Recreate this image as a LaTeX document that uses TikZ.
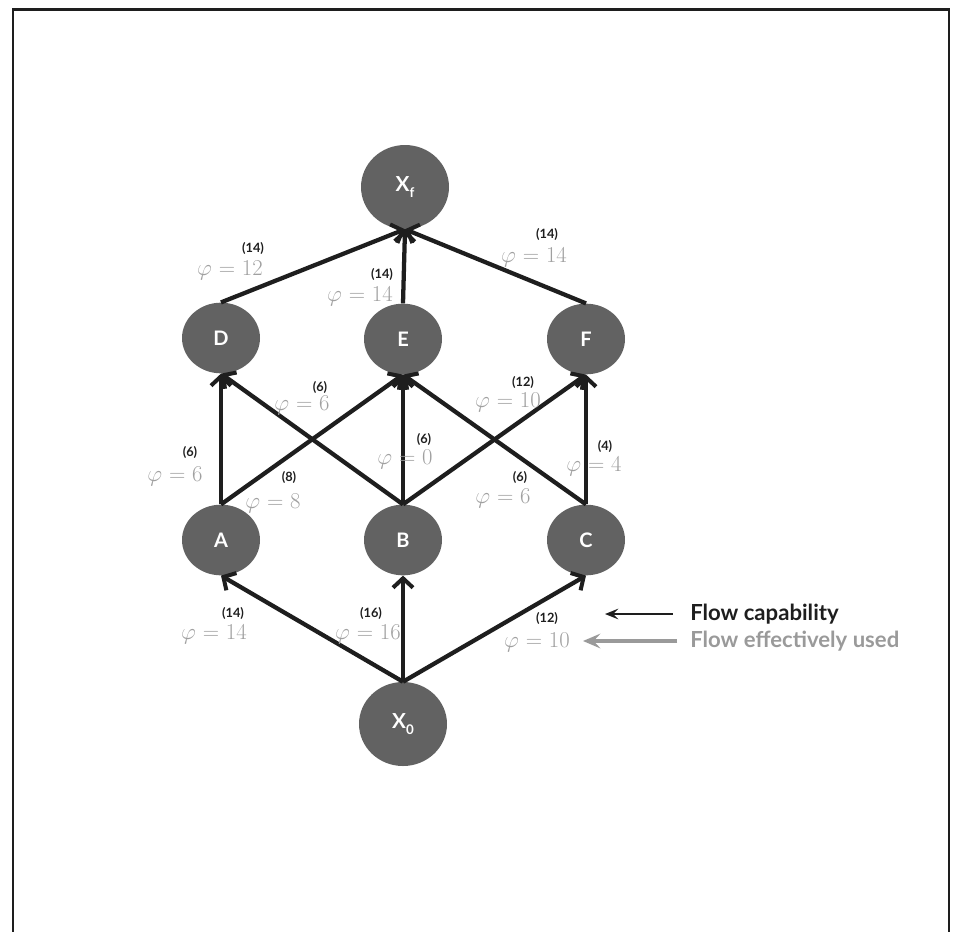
\documentclass[tikz,border=0pt]{standalone}
\usepackage{fontspec}
\setmainfont{Lato}
\usetikzlibrary{arrows.meta,shapes.geometric}
\definecolor{nodegray}{HTML}{626262}
\definecolor{phigray}{HTML}{A0A0A0}
\definecolor{leggray}{HTML}{9A9A9A}
\definecolor{ink}{HTML}{1E1E1E}
\tikzset{
  stnode/.style={ellipse, fill=nodegray, draw=none, minimum width=58.5pt, minimum height=53pt, inner sep=0pt,
    text=white, font=\fontsize{15}{17}\selectfont\bfseries},
  bignode/.style={stnode, minimum width=66pt, minimum height=63pt, font=\fontsize{15.5}{17}\selectfont\bfseries},
  edge/.style={draw=ink, line width=3.2pt, -{Straight Barb[length=7pt,width=15pt,line width=3pt]}},
  caplabel/.style={font=\fontsize{9.6}{11}\selectfont\bfseries, text=ink, inner sep=0pt},
  philabel/.style={font=\fontspec{Latin Modern Roman}\fontsize{17}{19}\selectfont, text=phigray, inner sep=0pt},
  legtext/.style={font=\fontsize{16.6}{19}\selectfont\bfseries, anchor=west, inner sep=0pt},
}
\newcommand{\phival}[1]{$\varphi$ = #1}
\begin{document}
\begin{tikzpicture}[x=0.75pt,y=-0.75pt]
\useasboundingbox (0,0) rectangle (955,931);
% frame
\draw[line width=2.2pt, draw=ink] (13,935) -- (13,9.5) -- (949,9.5) -- (949,935);
% nodes
\node[bignode] (Xf) at (405,187) {X\raisebox{-0.55ex}{\fontsize{10}{11}\selectfont f}};
\node[stnode] (D) at (221,338) {D};
\node[stnode] (E) at (403,339) {E};
\node[stnode] (F) at (586,339) {F};
\node[stnode] (A) at (221,540) {A};
\node[stnode] (B) at (403,540) {B};
\node[stnode] (C) at (586,540) {C};
\node[bignode] (X0) at (403,724) {X\raisebox{-0.55ex}{\fontsize{10}{11}\selectfont 0}};
% edges
\draw[edge] (D.north) -- (Xf.south);
\draw[edge] (E.north) -- (Xf.south);
\draw[edge] (F.north) -- (Xf.south);
\draw[edge] (A.north) -- (D.south);
\draw[edge] (A.north) -- (E.south);
\draw[edge] (B.north) -- (D.south);
\draw[edge] (B.north) -- (E.south);
\draw[edge] (B.north) -- (F.south);
\draw[edge] (C.north) -- (E.south);
\draw[edge] (C.north) -- (F.south);
\draw[edge] (X0.north) -- (A.south);
\draw[edge] (X0.north) -- (B.south);
\draw[edge] (X0.north) -- (C.south);
% labels
\node[caplabel] (c1) at (253,248) {(14)}; \node[philabel] (p1) at (230,270) {\phival{12}};
\node[caplabel] (c2) at (382,274) {(14)}; \node[philabel] (p2) at (360,296) {\phival{14}};
\node[caplabel] (c3) at (547,234) {(14)}; \node[philabel] (p3) at (534,257) {\phival{14}};
\node[caplabel] (c4) at (320,387) {(6)};  \node[philabel] (p4) at (302,405) {\phival{6}};
\node[caplabel] (c5) at (190,452) {(6)};  \node[philabel] (p5) at (175,476) {\phival{6}};
\node[caplabel] (c6) at (289,477) {(8)};  \node[philabel] (p6) at (273,503) {\phival{8}};
\node[caplabel] (c7) at (424,439) {(6)};  \node[philabel] (p7) at (405,459) {\phival{0}};
\node[caplabel] (c8) at (523,382) {(12)}; \node[philabel] (p8) at (508,402) {\phival{10}};
\node[caplabel] (c9) at (520,477) {(6)};  \node[philabel] (p9) at (503,498) {\phival{6}};
\node[caplabel] (c10) at (605,446) {(4)}; \node[philabel] (p10) at (594,466) {\phival{4}};
\node[caplabel] (c11) at (233,613) {(14)}; \node[philabel] (p11) at (214,634) {\phival{14}};
\node[caplabel] (c12) at (371,613) {(16)}; \node[philabel] (p12) at (368,634) {\phival{16}};
\node[caplabel] (c13) at (547,618) {(12)}; \node[philabel] (p13) at (537,642) {\phival{10}};
% legend
\node[legtext, text=ink] (L1) at (690,614) {Flow capability};
\node[legtext, text=leggray] (L2) at (690,641) {Flow effectively used};
\coordinate (L1e) at (605,614);
\coordinate (L2e) at (583,641);
\draw[draw=ink, line width=1.2pt, -{Stealth[length=10pt,width=8pt,inset=4pt]}] ([xshift=-13pt]L1.west) -- (L1e);
\draw[draw=leggray, line width=2.6pt, -{Stealth[length=13pt,width=11pt,inset=5pt]}] ([xshift=-9.5pt]L2.west) -- (L2e);
\end{tikzpicture}
\end{document}
